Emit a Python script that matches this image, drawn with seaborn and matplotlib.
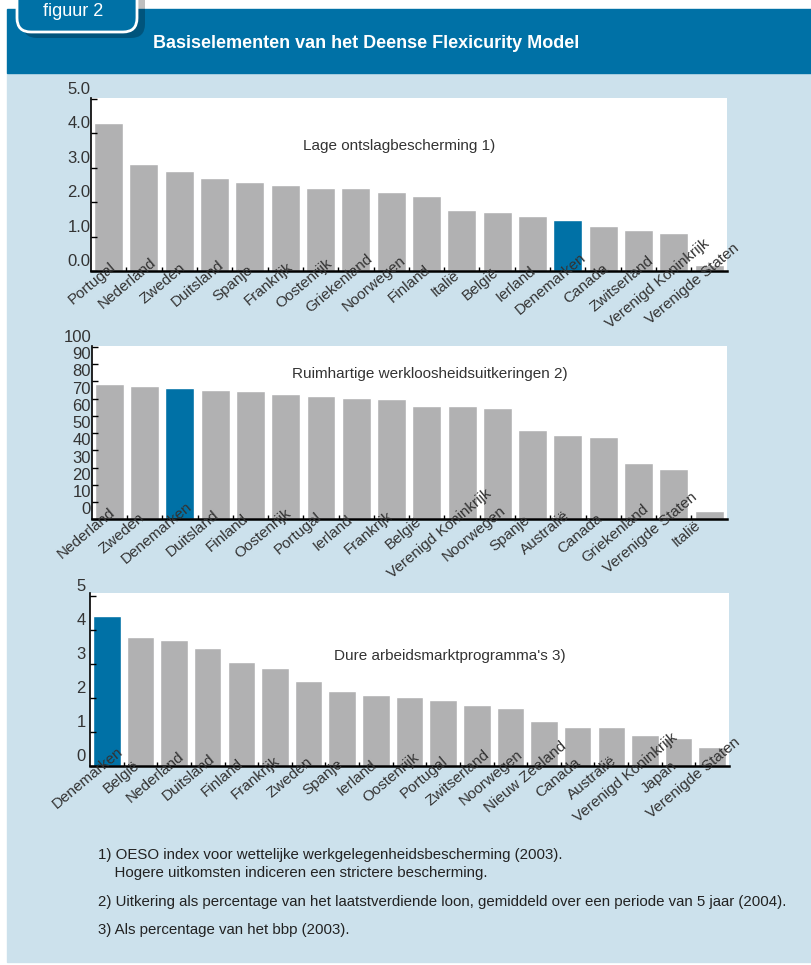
import matplotlib
matplotlib.use('Agg')
import matplotlib.pyplot as plt
import matplotlib.transforms as mtransforms
from matplotlib.patches import FancyBboxPatch, Rectangle
import pandas as pd
import seaborn as sns

# Gegevens figuur 2
landen_1 = ['Portugal', 'Nederland', 'Zweden', 'Duitsland', 'Spanje', 'Frankrijk',
            'Oostenrijk', 'Griekenland', 'Noorwegen', 'Finland', 'Italië', 'België',
            'Ierland', 'Denemarken', 'Canada', 'Zwitserland', 'Verenigd Koninkrijk',
            'Verenigde Staten']
waarden_1 = [4.31, 3.11, 2.92, 2.70, 2.59, 2.50, 2.41, 2.41, 2.30, 2.18,
             1.77, 1.72, 1.60, 1.48, 1.31, 1.19, 1.10, 0.17]

landen_2 = ['Nederland', 'Zweden', 'Denemarken', 'Duitsland', 'Finland', 'Oostenrijk',
            'Portugal', 'Ierland', 'Frankrijk', 'België', 'Verenigd Koninkrijk',
            'Noorwegen', 'Spanje', 'Australië', 'Canada', 'Griekenland',
            'Verenigde Staten', 'Italië']
waarden_2 = [78.5, 77.2, 76.0, 74.9, 74.3, 72.8, 71.4, 70.3, 69.7, 65.7,
             65.7, 64.5, 51.9, 49.0, 47.9, 32.4, 28.9, 4.8]

landen_3 = ['Denemarken', 'België', 'Nederland', 'Duitsland', 'Finland', 'Frankrijk',
            'Zweden', 'Spanje', 'Ierland', 'Oostenrijk', 'Portugal', 'Zwitserland',
            'Noorwegen', 'Nieuw Zeeland', 'Canada', 'Australië', 'Verenigd Koninkrijk',
            'Japan', 'Verenigde Staten']
waarden_3 = [4.42, 3.78, 3.69, 3.48, 3.04, 2.89, 2.51, 2.21, 2.09, 2.04, 1.95,
             1.80, 1.71, 1.33, 1.15, 1.15, 0.91, 0.83, 0.56]

yticks_1 = [0, 1, 2, 3, 4, 5]
ylabels_1 = ['0.0', '1.0', '2.0', '3.0', '4.0', '5.0']
yticks_2 = [0, 10, 20, 30, 40, 50, 60, 70, 80, 90, 100]
ylabels_2 = ['0', '10', '20', '30', '40', '50', '60', '70', '80', '90', '100']
yticks_3 = [0, 1, 2, 3, 4, 5]
ylabels_3 = ['0', '1', '2', '3', '4', '5']

titel = 'Basiselementen van het Deense Flexicurity Model'
titel_1 = 'Lage ontslagbescherming 1)'
titel_2 = 'Ruimhartige werkloosheidsuitkeringen 2)'
titel_3 = "Dure arbeidsmarktprogramma's 3)"
voetnoten = ['1) OESO index voor wettelijke werkgelegenheidsbescherming (2003).',
             '    Hogere uitkomsten indiceren een strictere bescherming.',
             '2) Uitkering als percentage van het laatstverdiende loon, gemiddeld over een periode van 5 jaar (2004).',
             '3) Als percentage van het bbp (2003).']

BLAUW = '#0071a6'
GRIJS = '#b1b1b2'
LICHT = '#cce1ec'
TEKST = '#333333'

sns.set_theme(style='white')
plt.rcParams['font.family'] = ['Liberation Sans', 'DejaVu Sans']
SMAL = ['Liberation Sans Narrow', 'Liberation Sans', 'DejaVu Sans']

W, H = 811, 965
fig = plt.figure(figsize=(W / 100, H / 100), dpi=100)
fig.patch.set_facecolor('white')
pix = mtransforms.IdentityTransform()

# achtergrond en kopbalk
fig.add_artist(Rectangle((7, H - 962), W - 7, 962 - 73, transform=pix, color=LICHT, zorder=0))
fig.add_artist(Rectangle((7, H - 73), W - 7, 64, transform=pix, color=BLAUW, zorder=0))
# tabje "figuur 2" met schaduw
fig.add_artist(FancyBboxPatch((23, H - 38), 122, 60, boxstyle='round,pad=0,rounding_size=14',
                              transform=pix, fc='black', ec='none', alpha=0.25, zorder=1))
fig.add_artist(FancyBboxPatch((17, H - 32), 120, 60, boxstyle='round,pad=0,rounding_size=14',
                              transform=pix, fc=BLAUW, ec='white', lw=2, zorder=2))
fig.text(43 / W, 1 - 11 / H, 'figuur 2', color='white', fontsize=13, va='center', zorder=3)
fig.text(153 / W, 1 - 43 / H, titel, color='white', fontsize=13, fontweight='bold',
         family=SMAL, va='center', zorder=3)


def teken(rect, landen, waarden, ymax, yticks, ylabels, titel, tx, ty, ypad, xoff):
    ax = fig.add_axes(rect)
    df = pd.DataFrame({'land': landen, 'waarde': waarden})
    kleuren = {l: (BLAUW if l == 'Denemarken' else GRIJS) for l in landen}
    sns.barplot(data=df, x='land', y='waarde', hue='land', palette=kleuren, legend=False,
                saturation=1, width=0.82, ax=ax)
    n = len(landen)
    ax.set_axisbelow(False)
    ax.set_xlim(-0.5, n - 0.5)
    ax.set_ylim(0, ymax)
    ax.set_xlabel('')
    ax.set_ylabel('')
    ax.set_facecolor('white')
    ax.spines['top'].set_visible(False)
    ax.spines['right'].set_visible(False)
    ax.spines['left'].set_color('black')
    ax.spines['left'].set_linewidth(1.2)
    ax.spines['bottom'].set_color('black')
    ax.spines['bottom'].set_linewidth(1.8)

    ax.set_yticks(yticks)
    ax.set_yticklabels(ylabels, fontsize=12, color=TEKST)
    ax.tick_params(axis='y', direction='in', length=4, width=1, left=True, pad=ypad, color='black')
    ax.set_xticks(range(n))
    ax.set_xticklabels(landen, rotation=40, ha='center', va='center', rotation_mode='anchor',
                       fontsize=11, color=TEKST)
    ax.tick_params(axis='x', which='major', length=0, pad=0)
    ax.set_xticks([i + 0.5 for i in range(n - 1)], minor=True)
    ax.tick_params(axis='x', which='minor', direction='in', length=3, width=1, bottom=True, color='black')

    # labels verschoven zoals in het origineel
    omhoog = mtransforms.ScaledTranslation(0, 0.11, fig.dpi_scale_trans)
    for lab in ax.get_yticklabels():
        lab.set_transform(lab.get_transform() + omhoog)
    schuif = mtransforms.ScaledTranslation(xoff[0] / 100, xoff[1] / 100, fig.dpi_scale_trans)
    for lab in ax.get_xticklabels():
        lab.set_transform(lab.get_transform() + schuif)

    ax.text(tx, ty, titel, transform=ax.transAxes, ha='center', va='center', fontsize=11, color=TEKST)
    return ax


teken([91 / W, 1 - 271 / H, 635.7 / W, 173.3 / H], landen_1, waarden_1, 5.04, yticks_1, ylabels_1,
      titel_1, 0.484, 0.72, 0.5, (-16.7, -12.7))
teken([91.7 / W, 1 - 519.3 / H, 635 / W, 173.3 / H], landen_2, waarden_2, 100.5, yticks_2, ylabels_2,
      titel_2, 0.532, 0.838, 0.5, (-23, -14))
teken([90 / W, 1 - 766 / H, 639 / W, 173.3 / H], landen_3, waarden_3, 5.09, yticks_3, ylabels_3,
      titel_3, 0.563, 0.636, 3, (-19, -11.5))

# voetnoten
for tekst, y in zip(voetnoten, [855, 873, 902, 930]):
    fig.text(98 / W, 1 - y / H, tekst, fontsize=10.8, color='#222222', family=SMAL, va='center')

fig.savefig('out.png', dpi=100)
